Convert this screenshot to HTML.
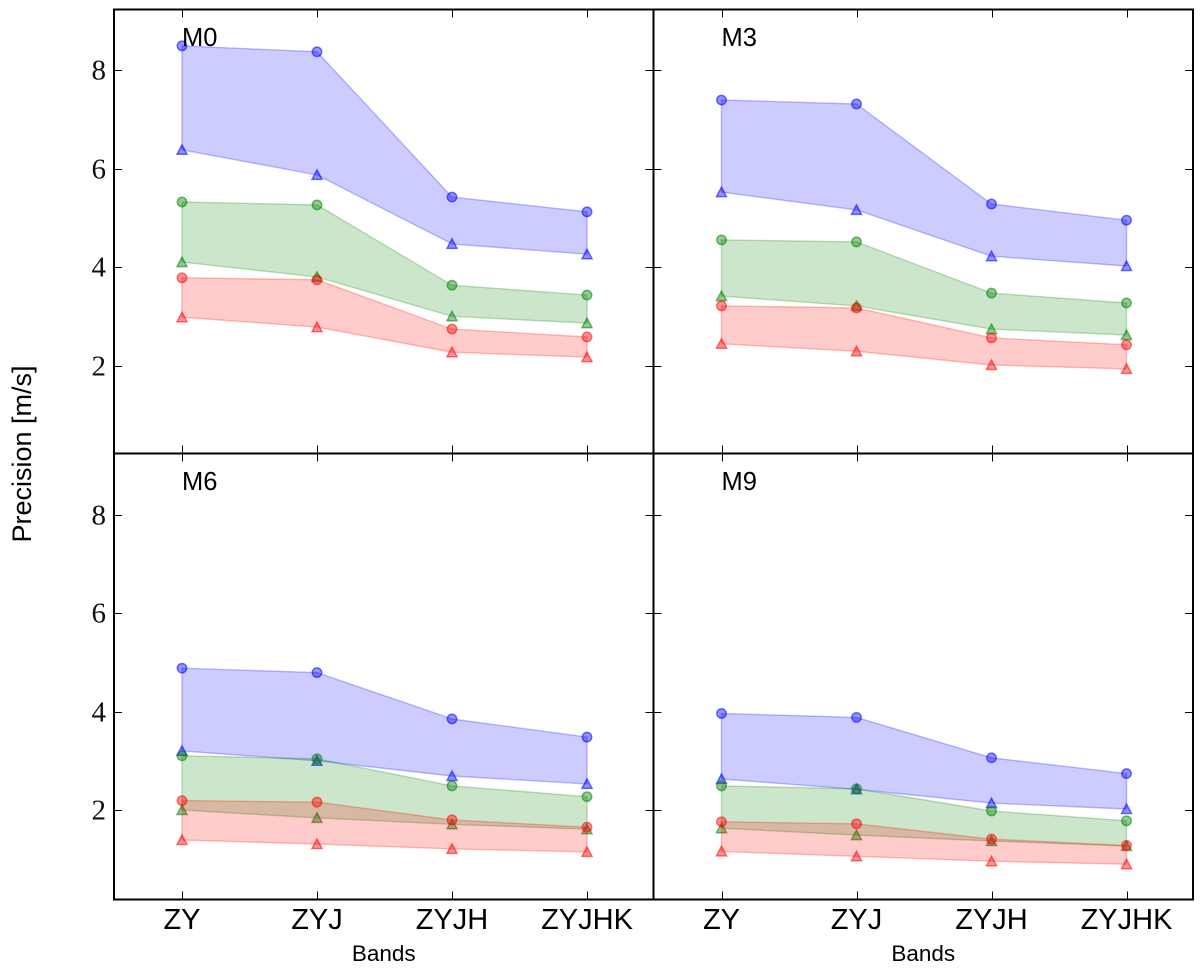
<!DOCTYPE html>
<html lang="en">
<head>
<meta charset="utf-8">
<title>Precision by band</title>
<style>
html,body{margin:0;padding:0;background:#fff;width:1200px;height:971px;overflow:hidden}
svg{display:block}
.ytick{font-family:"Liberation Serif",serif;font-size:29px;fill:#111}
.xtick{font-family:"Liberation Sans",sans-serif;font-size:29px;fill:#000}
.panel-title{font-family:"Liberation Sans",sans-serif;font-size:25.5px;fill:#000}
.xlabel{font-family:"Liberation Sans",sans-serif;font-size:22.5px;fill:#000}
.ylabel{font-family:"Liberation Sans",sans-serif;font-size:27px;fill:#000}
</style>
</head>
<body>
<svg id="chart" xmlns="http://www.w3.org/2000/svg" width="1200" height="971" viewBox="0 0 1200 971">
<text class="ylabel" transform="translate(31,454) rotate(-90)" text-anchor="middle">Precision [m/s]</text>
</svg>
<script>
const bands = ['ZY', 'ZYJ', 'ZYJH', 'ZYJHK'];
const yTicks = [2, 4, 6, 8];
const panelNames = ['M0', 'M3', 'M6', 'M9'];
const seriesNames = ['blue', 'green', 'red'];
const seriesColors = ['#0000ff', '#008000', '#ff0000'];

const m0Upper = [[8.49, 8.37, 5.42, 5.12], [5.32, 5.26, 3.63, 3.43], [3.78, 3.74, 2.74, 2.58]];
const m0Lower = [[6.38, 5.87, 4.47, 4.26], [4.10, 3.80, 3.00, 2.86], [2.98, 2.78, 2.27, 2.17]];
const m3Upper = [[7.39, 7.31, 5.28, 4.95], [4.55, 4.51, 3.47, 3.27], [3.21, 3.17, 2.56, 2.42]];
const m3Lower = [[5.52, 5.16, 4.22, 4.02], [3.41, 3.21, 2.74, 2.62], [2.44, 2.29, 2.01, 1.93]];
const m6Upper = [[4.88, 4.79, 3.85, 3.48], [3.10, 3.04, 2.49, 2.27], [2.19, 2.16, 1.80, 1.65]];
const m6Lower = [[3.20, 3.00, 2.69, 2.53], [2.00, 1.84, 1.71, 1.61], [1.39, 1.31, 1.21, 1.15]];
const m9Upper = [[3.96, 3.88, 3.06, 2.74], [2.49, 2.43, 1.98, 1.78], [1.76, 1.72, 1.41, 1.28]];
const m9Lower = [[2.63, 2.42, 2.14, 2.02], [1.63, 1.49, 1.37, 1.27], [1.16, 1.06, 0.96, 0.90]];
const panelUpper = [m0Upper, m3Upper, m6Upper, m9Upper];
const panelLower = [m0Lower, m3Lower, m6Lower, m9Lower];

const NS = 'http://www.w3.org/2000/svg';
const svg = document.getElementById('chart');
const layout = { left: 114, mid: 653.5, right: 1193, top: 9.5, hmid: 453.5, bottom: 899.5 };
const unit = 49.25;
const firstBand = 68;
const bandStep = 135;

function make(tag, attrs, parent) {
  const el = document.createElementNS(NS, tag);
  for (const k in attrs) el.setAttribute(k, attrs[k]);
  parent.appendChild(el);
  return el;
}
function panelBox(i) {
  const col = i % 2, row = i < 2 ? 0 : 1;
  return {
    x0: col === 0 ? layout.left : layout.mid,
    x1: col === 0 ? layout.mid : layout.right,
    y0: row === 0 ? layout.top : layout.hmid,
    y1: row === 0 ? layout.hmid : layout.bottom,
    col: col,
    row: row
  };
}
function xScale(box, idx) {
  return box.x0 + firstBand + idx * bandStep;
}
function yScale(box, v) {
  const zero = box.row === 0 ? 464 : 908.5;
  return zero - v * unit;
}
function pointsOf(box, arr) {
  return arr.map(function (v, j) { return xScale(box, j).toFixed(1) + ',' + yScale(box, v).toFixed(1); });
}

panelNames.forEach(function (name, i) {
  const box = panelBox(i);
  const g = make('g', {}, svg);
  
  

  seriesNames.forEach(function (sName, s) {
    const color = seriesColors[s];
    const up = panelUpper[i][s];
    const lo = panelLower[i][s];
    const band = make('polygon', {
      points: pointsOf(box, up).concat(pointsOf(box, lo).reverse()).join(' '),
      fill: color, 'fill-opacity': 0.2, stroke: color, 'stroke-opacity': 0.25, 'stroke-width': 1.4, 'stroke-linejoin': 'round'
    }, g);
    
    

    up.forEach(function (v, j) {
      const c = make('circle', {
        cx: xScale(box, j), cy: yScale(box, v), r: 4.7,
        fill: color, 'fill-opacity': 0.42, stroke: color, 'stroke-opacity': 0.55, 'stroke-width': 1.5
      }, g);
      
      
    });
    lo.forEach(function (v, j) {
      const x = xScale(box, j), y = yScale(box, v);
      const t = make('polygon', {
        points: [x, y - 5, x + 5, y + 4.5, x - 5, y + 4.5].reduce(function (acc, n, k) {
          return acc + n.toFixed(1) + (k % 2 ? ' ' : ',');
        }, '').trim(),
        fill: color, 'fill-opacity': 0.42, stroke: color, 'stroke-opacity': 0.55, 'stroke-width': 1.5
      }, g);
      
      
    });
  });

  const frame = make('rect', {
    x: box.x0, y: box.y0, width: box.x1 - box.x0, height: box.y1 - box.y0,
    fill: 'none', stroke: '#000', 'stroke-width': 2
  }, g);
  
  

  yTicks.forEach(function (v) {
    const y = Math.round(yScale(box, v)) + 0.5;
    const a = make('line', { x1: box.x0, x2: box.x0 + 8, y1: y, y2: y, stroke: '#000', 'stroke-width': 1 }, g);
    
    
    const b = make('line', { x1: box.x1, x2: box.x1 - 8, y1: y, y2: y, stroke: '#000', 'stroke-width': 1 }, g);
    
    
    if (box.col === 0) {
      const lab = make('text', { x: box.x0 - 8, y: y + 9, 'text-anchor': 'end', class: 'ytick' }, g);
      lab.textContent = String(v);
      
      
    }
  });

  bands.forEach(function (b, j) {
    const x = Math.round(xScale(box, j)) + 0.5;
    const t1 = make('line', { x1: x, x2: x, y1: box.y0, y2: box.y0 + 8, stroke: '#000', 'stroke-width': 1 }, g);
    
    
    const t2 = make('line', { x1: x, x2: x, y1: box.y1, y2: box.y1 - 8, stroke: '#000', 'stroke-width': 1 }, g);
    
    
    if (box.row === 1) {
      const lab = make('text', { x: xScale(box, j), y: 929, 'text-anchor': 'middle', class: 'xtick' }, g);
      lab.textContent = b;
      
      
    }
  });

  const title = make('text', { x: box.x0 + 68, y: box.y0 + 36.5, class: 'panel-title' }, g);
  title.textContent = name;
  
  

  if (box.row === 1) {
    const xl = make('text', { x: (box.x0 + box.x1) / 2, y: 961, 'text-anchor': 'middle', class: 'xlabel' }, g);
    xl.textContent = 'Bands';
    
    
  }
});
</script>
</body>
</html>
